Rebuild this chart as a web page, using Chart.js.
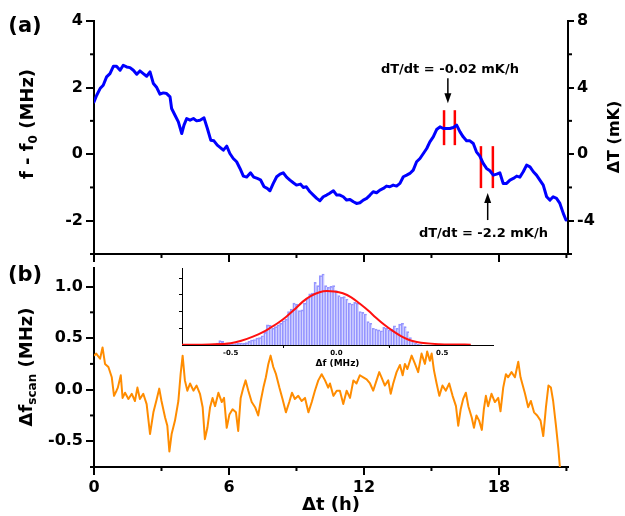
<!DOCTYPE html>
<html>
<head>
<meta charset="utf-8">
<script src="https://cdn.jsdelivr.net/npm/chart.js@4.4.1/dist/chart.umd.min.js"></script>
<style>
  html, body { margin: 0; padding: 0; background: #fff; }
  #fig { position: relative; width: 625px; height: 516px; overflow: hidden; }
  canvas { position: absolute; }
</style>
</head>
<body>
<div id="fig">
  <canvas id="chartA" width="625" height="264" style="left:0;top:0"></canvas>
  <canvas id="chartB" width="625" height="252" style="left:0;top:264px"></canvas>
  <canvas id="inset" width="360" height="112" style="left:150px;top:262px"></canvas>
</div>
<script>
// (a) frequency shift vs time
const aTime = [0, 0.12, 0.27, 0.41, 0.56, 0.71, 0.86, 1.0, 1.16, 1.3,
  1.45, 1.6, 1.75, 1.9, 2.04, 2.19, 2.34, 2.49, 2.64, 2.79,
  2.93, 3.08, 3.23, 3.38, 3.45, 3.6, 3.75, 3.9, 4.0, 4.12,
  4.27, 4.42, 4.56, 4.71, 4.89, 5.04, 5.19, 5.33, 5.48, 5.63,
  5.75, 5.9, 6.04, 6.19, 6.34, 6.49, 6.64, 6.79, 6.96, 7.1,
  7.26, 7.4, 7.56, 7.7, 7.82, 7.97, 8.12, 8.27, 8.41, 8.56,
  8.71, 8.86, 9.0, 9.18, 9.3, 9.44, 9.6, 9.75, 9.9, 10.04,
  10.19, 10.34, 10.46, 10.64, 10.79, 10.93, 11.08, 11.23, 11.38, 11.53,
  11.67, 11.82, 11.97, 12.12, 12.27, 12.41, 12.56, 12.71, 12.86, 13.0,
  13.15, 13.3, 13.45, 13.6, 13.75, 13.9, 14.04, 14.19, 14.34, 14.49,
  14.64, 14.79, 14.93, 15.08, 15.23, 15.38, 15.53, 15.67, 15.82, 15.97,
  16.12, 16.27, 16.41, 16.56, 16.71, 16.86, 17.0, 17.15, 17.3, 17.45,
  17.6, 17.75, 17.9, 18.04, 18.19, 18.34, 18.49, 18.64, 18.79, 18.93,
  19.08, 19.23, 19.38, 19.53, 19.67, 19.82, 19.97, 20.12, 20.27, 20.41,
  20.56, 20.71, 20.86, 20.98];
const aShift = [1.57, 1.77, 1.97, 2.07, 2.32, 2.42, 2.64, 2.64, 2.52, 2.67,
  2.62, 2.6, 2.52, 2.4, 2.5, 2.42, 2.34, 2.47, 2.12, 2.0,
  1.8, 1.84, 1.82, 1.72, 1.37, 1.17, 0.97, 0.62, 0.87, 1.07,
  1.02, 1.07, 1.0, 1.02, 1.09, 0.77, 0.42, 0.4, 0.27, 0.19,
  0.12, 0.24, 0.02, -0.13, -0.23, -0.43, -0.66, -0.69, -0.56, -0.69,
  -0.73, -0.77, -0.98, -1.03, -1.1, -0.88, -0.68, -0.6, -0.56, -0.69,
  -0.78, -0.86, -0.93, -0.9, -1.0, -0.98, -1.13, -1.23, -1.33, -1.4,
  -1.28, -1.23, -1.18, -1.1, -1.23, -1.23, -1.28, -1.38, -1.36, -1.43,
  -1.48, -1.46, -1.38, -1.33, -1.23, -1.13, -1.16, -1.08, -1.03, -0.96,
  -0.98, -0.93, -0.96, -0.88, -0.68, -0.63, -0.58, -0.48, -0.23, -0.13,
  0.02, 0.17, 0.37, 0.52, 0.74, 0.82, 0.77, 0.77, 0.77, 0.8,
  0.87, 0.67, 0.52, 0.4, 0.4, 0.32, 0.07, -0.06, -0.28, -0.43,
  -0.5, -0.63, -0.6, -0.56, -0.88, -0.88, -0.78, -0.73, -0.66, -0.69,
  -0.53, -0.33, -0.38, -0.53, -0.63, -0.78, -0.93, -1.28, -1.38, -1.28,
  -1.33, -1.48, -1.78, -1.98];

// red markers: fit windows of the two slopes
const markTime = [15.56, 16.04, 17.2, 17.73];
const markLow = [0.27, 0.27, -1.02, -1.02];
const markHigh = [1.32, 1.32, 0.24, 0.24];
const rateLabels = ['dT/dt = -0.02 mK/h', 'dT/dt = -2.2 mK/h'];

// (b) scan offset vs time
const bTime = [0, 0.1, 0.27, 0.38, 0.49, 0.64, 0.79, 0.89, 1.0, 1.06,
  1.19, 1.27, 1.38, 1.53, 1.68, 1.82, 1.93, 2.04, 2.19, 2.34,
  2.49, 2.64, 2.79, 2.9, 3.0, 3.16, 3.26, 3.35, 3.45, 3.6,
  3.75, 3.85, 3.94, 4.04, 4.15, 4.27, 4.42, 4.56, 4.71, 4.83,
  4.93, 5.04, 5.16, 5.27, 5.38, 5.53, 5.68, 5.78, 5.9, 6.02,
  6.16, 6.31, 6.41, 6.52, 6.64, 6.74, 6.86, 7.01, 7.16, 7.3,
  7.41, 7.53, 7.64, 7.75, 7.85, 7.97, 8.09, 8.24, 8.38, 8.53,
  8.68, 8.8, 8.93, 9.08, 9.23, 9.38, 9.53, 9.68, 9.82, 9.97,
  10.12, 10.27, 10.41,
  10.49, 10.64, 10.79, 10.93, 11.08, 11.23, 11.38, 11.53, 11.67, 11.82,
  11.97, 12.12, 12.27, 12.41, 12.56, 12.68, 12.78, 12.93, 13.08, 13.19,
  13.3, 13.45, 13.6, 13.72, 13.82, 13.93, 14.12, 14.27, 14.41, 14.56,
  14.71, 14.81, 14.93, 15.01, 15.11, 15.23, 15.35, 15.49, 15.64, 15.79,
  15.94, 16.09, 16.19, 16.3, 16.41, 16.53, 16.64, 16.79, 16.89, 17.0,
  17.12, 17.24, 17.33, 17.42, 17.52, 17.67, 17.82, 17.97, 18.07, 18.19,
  18.31, 18.41, 18.56, 18.71, 18.86, 18.96, 19.16, 19.3, 19.42, 19.56,
  19.7, 19.85, 19.97, 20.09, 20.2, 20.31, 20.41, 20.53, 20.64, 20.71];
const bScan = [0.33, 0.35, 0.3, 0.41, 0.25, 0.22, 0.12, -0.06, -0.01, 0.02,
  0.14, -0.08, -0.03, -0.09, -0.04, -0.11, 0.02, -0.09, -0.04, -0.14,
  -0.43, -0.22, -0.09, 0.01, -0.11, -0.27, -0.35, -0.6, -0.43, -0.3,
  -0.11, 0.15, 0.33, 0.09, -0.01, 0.06, -0.01, 0.04, -0.04, -0.17,
  -0.48, -0.37, -0.17, -0.08, -0.16, -0.03, -0.12, -0.08, -0.37, -0.24,
  -0.19, -0.22, -0.4, -0.08, 0.02, 0.09, -0.01, -0.12, -0.17, -0.25,
  -0.11, 0.02, 0.12, 0.25, 0.33, 0.22, 0.15, 0.02, -0.09, -0.22,
  -0.12, -0.03, -0.09, -0.06, -0.11, -0.08, -0.22, -0.12, -0.01, 0.09,
  0.15, 0.09, 0.02,
  0.06, -0.06, -0.01, -0.01, -0.14, -0.01, -0.08, 0.09, 0.06, 0.14,
  0.12, 0.1, 0.06, -0.01, 0.09, 0.17, 0.12, 0.04, 0.09, -0.04,
  0.06, 0.17, 0.24, 0.14, 0.25, 0.2, 0.33, 0.25, 0.17, 0.35,
  0.25, 0.37, 0.28, 0.35, 0.19, 0.06, -0.06, 0.04, -0.01, 0.06,
  -0.06, -0.16, -0.35, -0.19, -0.09, -0.03, -0.16, -0.27, -0.37, -0.25,
  -0.3, -0.39, -0.19, -0.06, -0.16, -0.04, -0.12, -0.08, -0.21, 0.02,
  0.15, 0.12, 0.17, 0.12, 0.27, 0.12, -0.04, -0.17, -0.11, -0.22,
  -0.25, -0.3, -0.45, -0.17, 0.04, 0.02, -0.11, -0.34, -0.57, -0.75];

// inset: histogram of the scan offset and its gaussian fit
const histStart = -0.6;
const histBin = 0.0125;
const histCounts = [0.02, 0.03, 0.05, 0.12, 0.26, 0.22, 0.08, 0.06, 0.07, 0.06,
  0.08, 0.1, 0.12, 0.1, 0.14, 0.22, 0.3, 0.33, 0.42, 0.45,
  0.55, 0.75, 1.2, 1.18, 1.0, 1.1, 1.2, 1.3, 1.45, 1.55,
  2.0, 2.15, 2.5, 2.45, 2.05, 2.1, 2.5, 2.8, 3.05, 3.1,
  3.74, 3.55, 4.14, 4.24, 3.55, 3.45, 3.5, 3.55, 3.25, 2.95,
  2.85, 2.9, 2.75, 2.5, 2.45, 2.55, 2.5, 2.0, 1.95, 1.85,
  1.4, 1.3, 1.0, 0.95, 0.9, 0.85, 1.05, 1.0, 0.9, 0.95,
  1.15, 1.0, 1.25, 1.3, 1.1, 0.8, 0.45, 0.25, 0.12, 0.05,
  0.02];
const fitShift = [-0.73, -0.6, -0.5, -0.45, -0.395, -0.35, -0.316, -0.275, -0.237, -0.2,
  -0.159, -0.12, -0.08, -0.045, -0.01, 0.03, 0.07, 0.108, 0.15, 0.187,
  0.225, 0.266, 0.305, 0.344, 0.38, 0.423, 0.486, 0.55, 0.635];
const fitCount = [0.01, 0.03, 0.1, 0.25, 0.5, 0.75, 1.0, 1.33, 1.69, 2.1,
  2.59, 2.93, 3.15, 3.22, 3.2, 3.09, 2.85, 2.49, 2.06, 1.63,
  1.22, 0.84, 0.53, 0.3, 0.18, 0.1, 0.05, 0.03, 0.02];

// tick values
const timeTicks = [0, 6, 12, 18];
const timeMinor = [3, 9, 15, 21];
const shiftTicks = [-2, 0, 2, 4];
const shiftMinor = [-3, -1, 1, 3];
const tempTicks = [-4, 0, 4, 8];
const tempMinor = [-6, -2, 2, 6];
const scanTicks = [-0.5, 0, 0.5, 1.0];
const scanMinor = [-0.75, -0.25, 0.25, 0.75];
const insetXTicks = [-0.5, 0, 0.5];
const insetXMinor = [-0.25, 0.25];
const insetYTicks = [1, 2, 3, 4];

const FONT = "'DejaVu Sans', sans-serif";
Chart.defaults.font.family = FONT;
Chart.defaults.font.weight = 'bold';
Chart.defaults.color = '#000';
Chart.defaults.animation = false;
Chart.defaults.responsive = false;
Chart.defaults.plugins.legend.display = false;
Chart.defaults.plugins.tooltip.enabled = false;

// fixed axis boxes so the plot areas land where the figure has them
function fixBox(size) {
  return (scale) => {
    if (scale.isHorizontal()) scale.height = size; else scale.width = size;
    scale.paddingTop = scale.paddingBottom = scale.paddingLeft = scale.paddingRight = 0;
  };
}
function setTicks(values) {
  return (scale) => { scale.ticks = values.map(v => ({ value: v })); };
}
function axisLines(tickLength, width) {
  return {
    grid: { drawOnChartArea: false, drawTicks: true, tickLength, tickWidth: width, tickColor: '#000', lineWidth: width, color: '#000' },
    border: { display: true, color: '#000', width }
  };
}

// short unlabeled ticks between the major ones
function minorTicks(byScale, len, width) {
  return {
    id: 'minorTicks',
    afterDraw(chart) {
      const ctx = chart.ctx;
      ctx.save();
      ctx.strokeStyle = '#000';
      ctx.lineWidth = width;
      Object.keys(byScale).forEach(id => {
        const s = chart.scales[id];
        byScale[id].forEach(v => {
          const p = s.getPixelForValue(v);
          ctx.beginPath();
          if (s.position === 'left') { ctx.moveTo(s.right, p); ctx.lineTo(s.right - len, p); }
          else if (s.position === 'right') { ctx.moveTo(s.left, p); ctx.lineTo(s.left + len, p); }
          else { ctx.moveTo(p, s.top); ctx.lineTo(p, s.top + len); }
          ctx.stroke();
        });
      });
      ctx.restore();
    }
  };
}

// free text: panel letters and titles with subscripts
function textItems(items) {
  return {
    id: 'textItems',
    afterDraw(chart) {
      const ctx = chart.ctx;
      const fontOf = s => `bold ${s}px ${FONT}`;
      items.forEach(it => {
        ctx.save();
        ctx.translate(it.x, it.y);
        if (it.rotate) ctx.rotate(it.rotate);
        ctx.fillStyle = '#000';
        ctx.textBaseline = 'middle';
        ctx.textAlign = 'left';
        let total = 0;
        it.parts.forEach(([t, s]) => { ctx.font = fontOf(s); total += ctx.measureText(t).width; });
        let cx = -total / 2;
        it.parts.forEach(([t, s, dy = 0]) => {
          ctx.font = fontOf(s);
          ctx.fillText(t, cx, dy);
          cx += ctx.measureText(t).width;
        });
        ctx.restore();
      });
    }
  };
}

// slope labels with arrows, anchored in data units
const rateNotes = [
  { label: 0, t: 15.82, f: 2.55, arrowT: 15.73, tail: 2.28, tip: 1.53 },
  { label: 1, t: 17.31, f: -2.40, arrowT: 17.5, tail: -1.98, tip: -1.17 }
];
const rateArrows = {
  id: 'rateArrows',
  afterDatasetsDraw(chart) {
    const { ctx, scales: { x, y } } = chart;
    ctx.save();
    ctx.fillStyle = '#000';
    ctx.strokeStyle = '#000';
    ctx.font = `bold 13px ${FONT}`;
    ctx.textAlign = 'center';
    ctx.textBaseline = 'middle';
    rateNotes.forEach(n => {
      ctx.fillText(rateLabels[n.label], x.getPixelForValue(n.t), y.getPixelForValue(n.f));
      const ax = x.getPixelForValue(n.arrowT);
      const y0 = y.getPixelForValue(n.tail);
      const y1 = y.getPixelForValue(n.tip);
      const dir = Math.sign(y1 - y0);
      ctx.lineWidth = 1.5;
      ctx.beginPath(); ctx.moveTo(ax, y0); ctx.lineTo(ax, y1 - dir * 8); ctx.stroke();
      ctx.beginPath();
      ctx.moveTo(ax, y1);
      ctx.lineTo(ax - 3.5, y1 - dir * 10);
      ctx.lineTo(ax + 3.5, y1 - dir * 10);
      ctx.closePath();
      ctx.fill();
    });
    ctx.restore();
  }
};

const tickFont = { size: 16, weight: 'bold' };

// ── Panel (a) ─────────────────────────────────────────────
new Chart(document.getElementById('chartA'), {
  type: 'line',
  data: {
    datasets: [
      {
        data: aTime.map((t, i) => ({ x: t, y: aShift[i] })),
        borderColor: '#0000ff', borderWidth: 3, pointRadius: 0, tension: 0,
        borderJoinStyle: 'round', borderCapStyle: 'round'
      },
      ...markTime.map((t, i) => ({
        data: [{ x: t, y: markLow[i] }, { x: t, y: markHigh[i] }],
        borderColor: '#ff0000', borderWidth: 2.5, pointRadius: 0
      }))
    ]
  },
  options: {
    layout: { padding: { top: 21, left: 0, right: 0, bottom: 0 } },
    scales: {
      x: {
        type: 'linear', position: 'bottom', min: 0, max: 21.07,
        afterBuildTicks: setTicks(timeTicks), afterFit: fixBox(10),
        ticks: { display: false },
        ...axisLines(8, 2)
      },
      y: {
        type: 'linear', position: 'left', min: -3, max: 4,
        afterBuildTicks: setTicks(shiftTicks), afterFit: fixBox(94),
        ticks: { font: tickFont, padding: 3, callback: v => v },
        ...axisLines(8, 2)
      },
      y2: {
        type: 'linear', axis: 'y', position: 'right', min: -6, max: 8,
        afterBuildTicks: setTicks(tempTicks), afterFit: fixBox(57),
        ticks: { font: tickFont, padding: 3, callback: v => v },
        ...axisLines(6, 2)
      }
    }
  },
  plugins: [
    minorTicks({ x: timeMinor, y: shiftMinor, y2: tempMinor }, 4, 2),
    rateArrows,
    textItems([
      { x: 25, y: 27, parts: [['(a)', 21]] },
      { x: 28, y: 124, rotate: -Math.PI / 2, parts: [['f - f', 18], ['0', 12, 6], [' (MHz)', 18]] },
      { x: 615, y: 137, rotate: -Math.PI / 2, parts: [['ΔT (mK)', 16]] }
    ])
  ]
});

// ── Panel (b) ─────────────────────────────────────────────
new Chart(document.getElementById('chartB'), {
  type: 'line',
  data: {
    datasets: [{
      data: bTime.map((t, i) => ({ x: t, y: bScan[i] })),
      borderColor: '#ff8c00', borderWidth: 2, pointRadius: 0, tension: 0,
      borderJoinStyle: 'round'
    }]
  },
  options: {
    layout: { padding: { top: 4, left: 0, right: 57, bottom: 0 } },
    scales: {
      x: {
        type: 'linear', position: 'bottom', min: 0, max: 21.07,
        afterBuildTicks: setTicks(timeTicks), afterFit: fixBox(49),
        ticks: { font: tickFont, padding: 3, autoSkip: false, maxRotation: 0, callback: v => v },
        title: { display: true, text: 'Δt (h)', font: { size: 18, weight: 'bold' }, padding: { top: 0, bottom: 0 } },
        ...axisLines(8, 2)
      },
      y: {
        type: 'linear', position: 'left', min: -0.75, max: 1.18,
        afterBuildTicks: setTicks(scanTicks), afterFit: fixBox(94),
        ticks: { font: tickFont, padding: 3, callback: v => v.toFixed(1) },
        ...axisLines(8, 2)
      }
    }
  },
  plugins: [
    minorTicks({ x: timeMinor, y: scanMinor }, 4, 2),
    textItems([
      { x: 25, y: 12, parts: [['(b)', 21]] },
      { x: 27, y: 103, rotate: -Math.PI / 2, parts: [['Δf', 18], ['scan', 12, 6], [' (MHz)', 18]] }
    ])
  ]
});

// ── Inset histogram ───────────────────────────────────────
new Chart(document.getElementById('inset'), {
  type: 'bar',
  data: {
    datasets: [
      {
        type: 'line', order: 0,
        data: fitShift.map((d, i) => ({ x: d, y: fitCount[i] })),
        borderColor: '#ff1010', borderWidth: 2, pointRadius: 0,
        tension: 0.4, cubicInterpolationMode: 'monotone'
      },
      {
        type: 'bar', order: 1,
        data: histCounts.map((c, i) => ({ x: histStart + i * histBin, y: c })),
        backgroundColor: 'rgba(150,150,255,0.35)', borderColor: 'rgba(80,80,255,0.6)',
        borderWidth: { top: 1, left: 1, right: 0, bottom: 0 },
        barPercentage: 1, categoryPercentage: 1
      }
    ]
  },
  options: {
    layout: { padding: { top: 6, left: 0, right: 17, bottom: 0 } },
    scales: {
      x: {
        type: 'linear', min: -0.73, max: 0.74, offset: false,
        afterBuildTicks: setTicks(insetXTicks), afterFit: fixBox(29),
        ticks: { font: { size: 7, weight: 'bold' }, padding: 1, autoSkip: false, maxRotation: 0, callback: v => v.toFixed(1) },
        title: { display: true, text: 'Δf (MHz)', font: { size: 9, weight: 'bold' }, padding: { top: 0, bottom: 5 } },
        ...axisLines(3, 1)
      },
      y: {
        type: 'linear', min: 0, max: 4.6,
        afterBuildTicks: setTicks(insetYTicks), afterFit: fixBox(32),
        ticks: { display: false },
        ...axisLines(3, 1)
      }
    }
  },
  plugins: [minorTicks({ x: insetXMinor }, 2, 1)]
});
</script>
</body>
</html>
